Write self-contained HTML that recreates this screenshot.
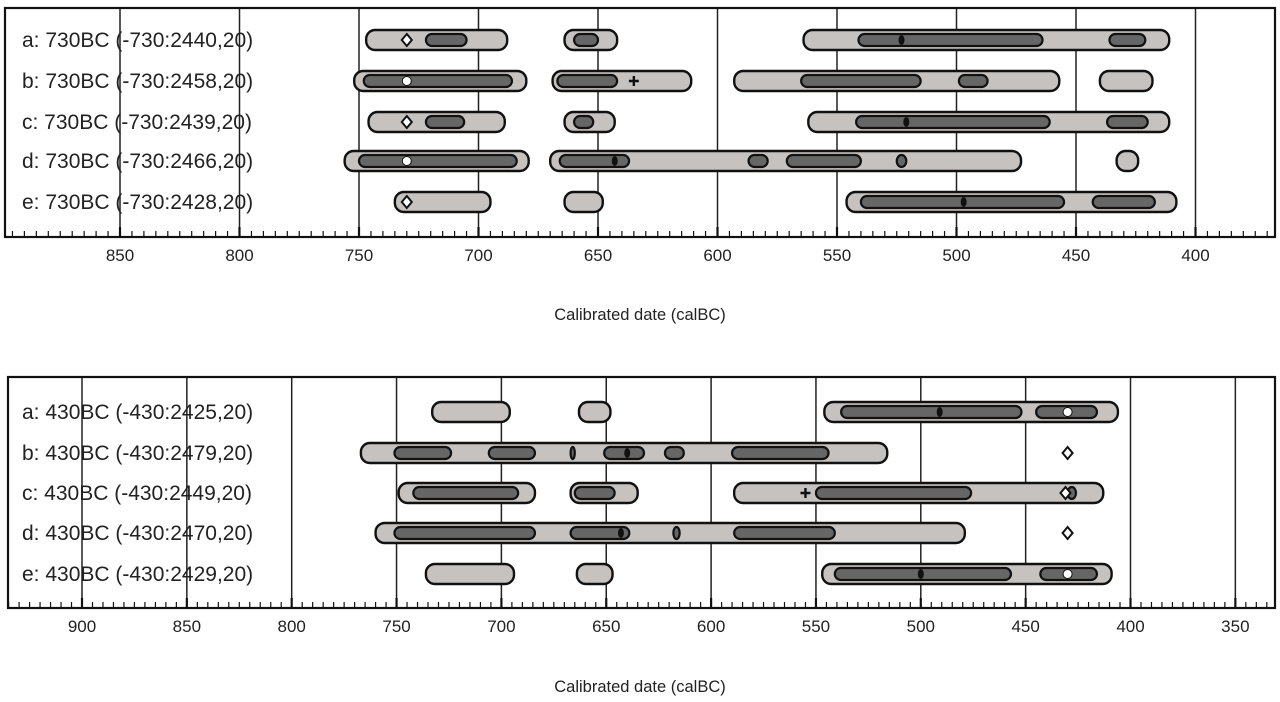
<!DOCTYPE html>
<html><head><meta charset="utf-8"><style>
body{margin:0;background:#fff;}
svg{display:block;font-family:"Liberation Sans",sans-serif;}
</style></head><body>
<svg id="chart" width="1280" height="702" viewBox="0 0 1280 702"></svg>
<script>
// ---- top panel data (calBC) ----
const topLabels = ["a: 730BC (-730:2440,20)","b: 730BC (-730:2458,20)","c: 730BC (-730:2439,20)","d: 730BC (-730:2466,20)","e: 730BC (-730:2428,20)"];
const topLight = [
 [[747,688],[664,642],[564,411]],
 [[752,680],[669,611],[593,457],[440,418]],
 [[746,689],[664,643],[562,411]],
 [[756,679],[670,473],[433,424]],
 [[735,695],[664,648],[546,408]]];
const topDark = [
 [[722,705],[660,650],[541,464],[436,421]],
 [[748,686],[667,642],[565,515],[499,487]],
 [[722,706],[660,652],[542,461],[437,420]],
 [[750,684],[666,637],[587,579],[571,540],[525,521]],
 [[540,455],[443,417]]];
const topMarks = [
 [["diamond",730],["bdot",523]],
 [["wdot",730],["plus",635]],
 [["diamond",730],["bdot",521]],
 [["wdot",730],["bdot",643]],
 [["diamond",730],["bdot",497]]];
const topTicks = [850,800,750,700,650,600,550,500,450,400];
// ---- bottom panel data ----
const botLabels = ["a: 430BC (-430:2425,20)","b: 430BC (-430:2479,20)","c: 430BC (-430:2449,20)","d: 430BC (-430:2470,20)","e: 430BC (-430:2429,20)"];
const botLight = [
 [[733,696],[663,648],[546,406]],
 [[767,516]],
 [[749,684],[667,635],[589,413]],
 [[760,479]],
 [[736,694],[664,647],[547,409]]];
const botDark = [
 [[538,452],[445,416]],
 [[751,724],[706,684],[667,665],[651,632],[622,613],[590,544]],
 [[742,692],[665,646],[550,476],[430,426]],
 [[751,684],[667,639],[618,615],[589,541]],
 [[541,457],[443,416]]];
const botMarks = [
 [["bdot",491],["wdot",430]],
 [["bdot",640],["diamond",430]],
 [["plus",555],["diamond",431]],
 [["bdot",643],["diamond",430]],
 [["bdot",500],["wdot",430]]];
const botTicks = [900,850,800,750,700,650,600,550,500,450,400,350];

const NS="http://www.w3.org/2000/svg";
const svg=document.getElementById('chart');
function mk(tag,attrs,parent){const e=document.createElementNS(NS,tag);for(const k in attrs)e.setAttribute(k,attrs[k]);(parent||svg).appendChild(e);return e;}

function panel(cfg){
  const g=mk('g',{});
  
  
  const x=v=>cfg.x0+(cfg.v0-v)*cfg.k;
  cfg.ticks.forEach(t=>{const l=mk('line',{x1:x(t),x2:x(t),y1:cfg.top,y2:cfg.bot,stroke:'#222','stroke-width':1.5},g);
    });
  const fr=mk('rect',{x:cfg.left,y:cfg.top,width:cfg.right-cfg.left,height:cfg.bot-cfg.top,fill:'none',stroke:'#111','stroke-width':2.2},g);
  
  const vmax=cfg.v0+(cfg.x0-cfg.left)/cfg.k, vmin=cfg.v0-(cfg.right-cfg.x0)/cfg.k;
  for(let v=Math.floor(vmax/5)*5;v>=vmin;v-=5){const xx=x(v);if(xx<cfg.left||xx>cfg.right)continue;
    const major=v%50===0;mk('line',{x1:xx,x2:xx,y1:cfg.bot,y2:cfg.bot-(major?10:6),stroke:'#111','stroke-width':major?2.2:1.2},g);}
  cfg.ticks.forEach(t=>{const tx=mk('text',{x:x(t),y:cfg.bot+24,'text-anchor':'middle','font-size':17,fill:'#222'},g);tx.textContent=t;
    });
  const at=mk('text',{x:640,y:cfg.titleY,'text-anchor':'middle','font-size':16.5,fill:'#222'},g);at.textContent='Calibrated date (calBC)';
  
  cfg.labels.forEach((lab,i)=>{
    const cy=cfg.rows[i];
    const t=mk('text',{x:cfg.labelX,y:cy+7,'font-size':21,fill:'#222'},g);t.textContent=lab;
    
    cfg.light[i].forEach(r=>{const a=x(r[0]),b=x(r[1]);
      const e=mk('rect',{x:a,y:cy-10,width:b-a,height:20,rx:9,fill:'#c6c2c0',stroke:'#111','stroke-width':2.4},g);
      });
    cfg.dark[i].forEach(r=>{const a=x(r[0]),b=x(r[1]);
      const e=mk('rect',{x:a,y:cy-6,width:b-a,height:12,rx:6,fill:'#666',stroke:'#111','stroke-width':2.2},g);
      });
    cfg.marks[i].forEach(m=>{const mx=x(m[1]);let e;
      if(m[0]==='diamond')e=mk('polygon',{points:`${mx},${cy-6} ${mx+5},${cy} ${mx},${cy+6} ${mx-5},${cy}`,fill:'#fff',stroke:'#111','stroke-width':2},g);
      else if(m[0]==='wdot')e=mk('circle',{cx:mx,cy:cy,r:4.5,fill:'#fff',stroke:'#111','stroke-width':1},g);
      else if(m[0]==='bdot')e=mk('ellipse',{cx:mx,cy:cy,rx:3,ry:5,fill:'#111'},g);
      else {e=mk('path',{d:`M${mx-5},${cy}H${mx+5}M${mx},${cy-5}V${cy+5}`,stroke:'#111','stroke-width':2.4},g);}
      });
  });
}
panel({name:'top-panel',x0:120,v0:850,k:2.39,left:5,right:1275,top:8,bot:237,titleY:320,labelX:22,
  rows:[40,81,122,161,202],labels:topLabels,light:topLight,dark:topDark,marks:topMarks,ticks:topTicks});
panel({name:'bottom-panel',x0:82,v0:900,k:2.097,left:8,right:1275,top:377,bot:608,titleY:692,labelX:22,
  rows:[412,453,493,533,574],labels:botLabels,light:botLight,dark:botDark,marks:botMarks,ticks:botTicks});
</script>
</body></html>
